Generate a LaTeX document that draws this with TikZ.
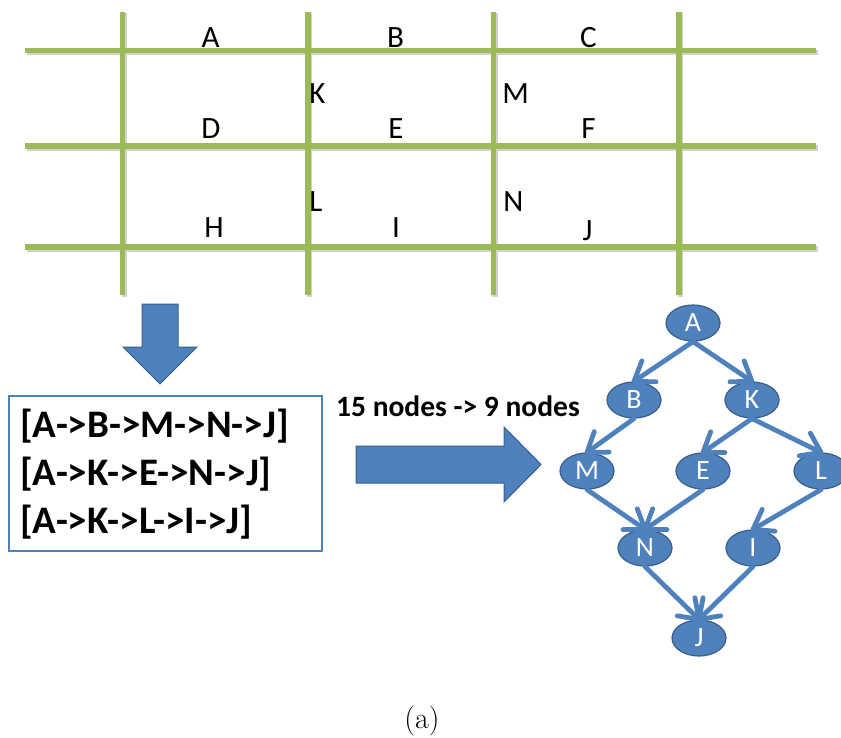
\documentclass[tikz,border=0pt]{standalone}
\usepackage{fontspec}
\newfontfamily\calfont{Carlito}
\usetikzlibrary{calc,shapes.geometric}
\definecolor{gridgreen}{HTML}{9BBB59}
\definecolor{nodeblue}{HTML}{4F81BD}
\definecolor{edgeblue}{HTML}{385D8A}
\tikzset{
  gridline/.style={gridgreen, line width=5.2pt},
  gridshadow/.style={black!18, line width=5.2pt},
  glabel/.style={font=\calfont\fontsize{31}{34}\selectfont, anchor=base, inner sep=0pt},
  pathtext/.style={font=\calfont\bfseries\fontsize{39}{42}\selectfont, anchor=base west, inner sep=0pt},
  gnode/.style={ellipse, fill=nodeblue, draw=edgeblue, line width=1.2pt, minimum width=54pt, minimum height=36pt, inner sep=0pt, text=white, font=\calfont\fontsize{28}{30}\selectfont, text height=17.5pt, text depth=0pt},
  gedge/.style={nodeblue, line width=4.8pt, line cap=round, line join=round},
  bigarrow/.style={fill=nodeblue, draw=edgeblue, line width=1pt, line join=miter},
}
\newcommand\graphedge[2]{%
  \draw[gedge] (#1.south) -- (#2.north);
  \draw[gedge] ($(#2.north)!22pt!35:(#1.south)$) -- (#2.north) -- ($(#2.north)!22pt!-35:(#1.south)$);
}
\begin{document}
\begin{tikzpicture}[x=1pt,y=-1pt]
\useasboundingbox (0,0) rectangle (841,738);
% grid shadows
\foreach \yy in {50.7,146,247} \draw[gridshadow] (26.5,\yy+2) -- (817.5,\yy+2);
\foreach \xx in {122.7,308,493.5,679} \draw[gridshadow] (\xx+1.5,13.5) -- (\xx+1.5,296.5);
% grid
\foreach \yy in {50.7,146,247} \draw[gridline] (25,\yy) -- (816,\yy);
\foreach \xx in {122.7,308,493.5,679} \draw[gridline] (\xx,12) -- (\xx,295);
% grid labels
\node[glabel] (gA) at (210.5,47.5) {A};
\node[glabel] (gB) at (395.5,47.5) {B};
\node[glabel] (gC) at (588.5,47.5) {C};
\node[glabel] (gK) at (317.5,104) {K};
\node[glabel] (gM) at (515.5,104) {M};
\node[glabel] (gD) at (211,138.5) {D};
\node[glabel] (gE) at (396,138.5) {E};
\node[glabel] (gF) at (588.5,138.5) {F};
\node[glabel] (gL) at (316,211.5) {L};
\node[glabel] (gN) at (513.5,211.5) {N};
\node[glabel] (gH) at (214,237.5) {H};
\node[glabel] (gI) at (396,237.5) {I};
\node[glabel] (gJ) at (587.5,240.5) {J};
% down arrow
\draw[bigarrow] (142,304) -- (178,304) -- (178,347) -- (197,347) -- (160,384) -- (123,347) -- (142,347) -- cycle;
% path box
\node[draw=nodeblue, line width=1.6pt, minimum width=313pt, minimum height=155pt, anchor=north west, inner sep=0pt] (box) at (8,395) {};
\node[pathtext] (p1) at (20,437) {[A->B->M->N->J]};
\node[pathtext] (p2) at (20,485) {[A->K->E->N->J]};
\node[pathtext] (p3) at (20,533) {[A->K->L->I->J]};
% label
\node[font=\calfont\bfseries\fontsize{29.5}{32}\selectfont, anchor=base west, inner sep=0pt] (lbl) at (336,416) {15 nodes -> 9 nodes};
% right arrow
\draw[bigarrow] (356,446) -- (504,446) -- (504,427) -- (541,464.5) -- (504,502) -- (504,483) -- (356,483) -- cycle;
% graph
\node[gnode] (A) at (693,323) {A};
\node[gnode] (B) at (634,400) {B};
\node[gnode] (K) at (752,400) {K};
\node[gnode] (M) at (587,471) {M};
\node[gnode] (E) at (703,471) {E};
\node[gnode] (L) at (821,471) {L};
\node[gnode] (N) at (645,548) {N};
\node[gnode] (I) at (753,548) {I};
\node[gnode] (J) at (699,638) {J};
\graphedge{A}{B}
\graphedge{A}{K}
\graphedge{B}{M}
\graphedge{K}{E}
\graphedge{K}{L}
\graphedge{M}{N}
\graphedge{E}{N}
\graphedge{L}{I}
\graphedge{N}{J}
\graphedge{I}{J}
% caption
\node[font=\fontsize{30}{33}\selectfont, anchor=center, inner sep=0pt] (cap) at (422,721) {(a)};
\end{tikzpicture}
\end{document}
